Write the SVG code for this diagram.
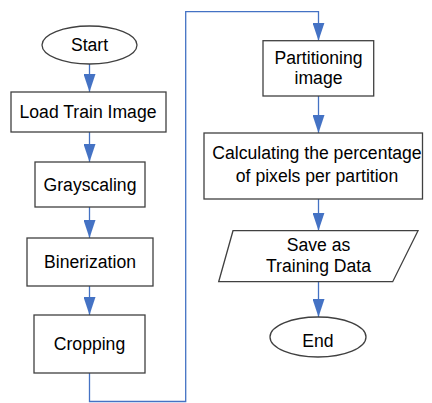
<svg xmlns="http://www.w3.org/2000/svg" width="432" height="403" viewBox="0 0 432 403">
<style>
.n{fill:#fff;stroke:#404040;stroke-width:1.3}
.t{font-family:"Liberation Sans",Arial,sans-serif;font-size:17.6px;fill:#000;text-anchor:middle}
.c{fill:none;stroke:#4472C4;stroke-width:1.3}
</style>
<defs>
<marker id="ah" markerUnits="userSpaceOnUse" viewBox="0 0 18 12" markerWidth="18" markerHeight="12" refX="18" refY="6" orient="auto">
<path d="M0,0 L18,6 L0,12 z" fill="#4472C4"/>
</marker>
</defs>
<rect width="432" height="403" fill="#fff"/>
<g id="connectors">
<line class="c" x1="89.5" y1="64" x2="89.5" y2="92" marker-end="url(#ah)"/>
<line class="c" x1="89.5" y1="132" x2="89.5" y2="162" marker-end="url(#ah)"/>
<line class="c" x1="89.5" y1="207" x2="89.5" y2="238" marker-end="url(#ah)"/>
<line class="c" x1="89.5" y1="286" x2="89.5" y2="315" marker-end="url(#ah)"/>
<polyline class="c" points="89.5,373 89.5,401.5 185.7,401.5 185.7,11.7 318.5,11.7 318.5,40.7" marker-end="url(#ah)"/>
<line class="c" x1="318.5" y1="96" x2="318.5" y2="133" marker-end="url(#ah)"/>
<line class="c" x1="318.5" y1="199" x2="318.5" y2="230.7" marker-end="url(#ah)"/>
<line class="c" x1="318.5" y1="282" x2="318.5" y2="317" marker-end="url(#ah)"/>
</g>
<g id="start">
<ellipse class="n" cx="89.5" cy="45" rx="47.5" ry="19"/>
<text class="t" x="89.5" y="51">Start</text>
</g>
<g id="load">
<rect class="n" x="11" y="92" width="155" height="40"/>
<text class="t" x="88" y="118.3">Load Train Image</text>
</g>
<g id="gray">
<rect class="n" x="35" y="162" width="110" height="45"/>
<text class="t" x="90" y="190.5">Grayscaling</text>
</g>
<g id="bin">
<rect class="n" x="27" y="238" width="126" height="48"/>
<text class="t" x="90" y="268.3">Binerization</text>
</g>
<g id="crop">
<rect class="n" x="34" y="315" width="111" height="58"/>
<text class="t" x="89.5" y="349.5">Cropping</text>
</g>
<g id="part">
<rect class="n" x="263" y="40.7" width="110.7" height="55.3"/>
<text class="t" x="318.5" y="64">Partitioning</text>
<text class="t" x="318.5" y="83.5">image</text>
</g>
<g id="calc">
<rect class="n" x="204" y="133" width="218.5" height="66"/>
<text class="t" x="317" y="159">Calculating the percentage</text>
<text class="t" x="317" y="181.7">of pixels per partition</text>
</g>
<g id="save">
<polygon class="n" points="233,230.7 418,230.7 392.7,281.7 218.7,281.7"/>
<text class="t" x="318.5" y="250.7">Save as</text>
<text class="t" x="318.5" y="271.7">Training Data</text>
</g>
<g id="end">
<ellipse class="n" cx="318" cy="337" rx="48" ry="20"/>
<text class="t" x="318" y="346.7">End</text>
</g>
</svg>
